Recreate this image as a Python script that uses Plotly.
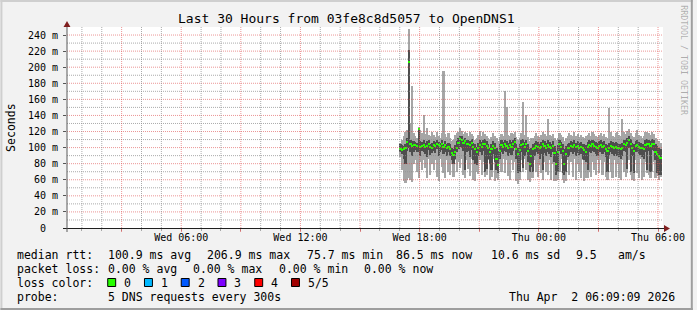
import plotly.graph_objects as go
import pandas as pd

# ---------------- data ----------------
start_time = "2026-04-01 17:03"   # first 5-minute sample

median_ms = [
    98, 97, 98, 99, 107, 207, 104, 102, 103, 103,
    102, 123, 101, 102, 103, 101, 102, 104, 101, 100,
    103, 102, 105, 103, 102, 104, 101, 103, 100, 101,
    98, 93, 91, 95, 100, 106, 111, 110, 106, 108,
    104, 105, 103, 106, 101, 98, 94, 100, 103, 101,
    104, 105, 102, 99, 94, 98, 102, 100, 86, 78,
    96, 103, 101, 104, 102, 100, 103, 101, 104, 107,
    98, 92, 97, 103, 105, 101, 104, 96, 79, 90,
    98, 100, 102, 101, 99, 101, 104, 102, 100, 103,
    101, 99, 102, 93, 80, 95, 104, 101, 96, 80,
    92, 99, 100, 102, 101, 103, 101, 102, 100, 101,
    99, 97, 95, 101, 103, 102, 104, 102, 101, 100,
    102, 103, 101, 102, 98, 96, 100, 102, 101, 100,
    101, 100, 99, 98, 100, 104, 103, 106, 109, 105,
    100, 96, 102, 103, 101, 100, 99, 98, 103, 105,
    104, 102, 105, 104, 95, 92, 90, 86.5,
]
min_ms = [
    88, 72, 58, 56, 60, 62, 60, 57, 80, 84,
    70, 62, 82, 72, 85, 75, 62, 86, 66, 80,
    72, 84, 63, 58, 86, 76, 68, 62, 84, 70,
    66, 80, 64, 85, 70, 82, 75, 86, 66, 62,
    84, 74, 65, 86, 60, 58, 70, 67, 85, 66,
    82, 64, 66, 84, 60, 64, 86, 58, 62, 60,
    80, 70, 86, 68, 84, 65, 60, 85, 72, 82,
    58, 55, 60, 84, 70, 86, 72, 60, 57, 62,
    62, 84, 70, 64, 78, 68, 60, 82, 70, 66,
    84, 60, 80, 58, 58, 60, 70, 86, 60, 56,
    58, 84, 66, 82, 64, 86, 60, 80, 70, 62,
    84, 58, 62, 62, 70, 64, 82, 72, 66, 85,
    68, 84, 66, 82, 64, 60, 86, 70, 62, 84,
    64, 80, 62, 60, 84, 70, 64, 68, 85, 66,
    60, 58, 84, 68, 62, 86, 60, 64, 82, 68,
    66, 62, 70, 82, 62, 65, 60, 63,
]
p2_ms = [
    95, 92, 86, 80, 96, 100, 94, 90, 95, 97,
    94, 95, 90, 96, 95, 92, 88, 97, 91, 93,
    96, 93, 98, 90, 95, 97, 92, 95, 90, 94,
    90, 84, 80, 86, 94, 98, 101, 100, 96, 72,
    94, 96, 88, 97, 85, 80, 78, 90, 95, 91,
    96, 70, 74, 86, 80, 72, 92, 82, 72, 68,
    86, 95, 92, 96, 94, 90, 93, 91, 96, 99,
    86, 68, 70, 94, 75, 90, 95, 82, 70, 76,
    70, 90, 95, 92, 86, 92, 72, 93, 90, 95,
    92, 88, 94, 82, 66, 70, 96, 92, 68, 66,
    70, 88, 90, 94, 92, 95, 90, 93, 91, 92,
    86, 84, 82, 72, 95, 93, 96, 94, 92, 90,
    94, 95, 92, 94, 88, 70, 91, 94, 92, 90,
    92, 90, 88, 86, 90, 96, 94, 74, 100, 70,
    90, 68, 94, 95, 92, 91, 88, 86, 95, 72,
    96, 70, 97, 96, 84, 68, 66, 66,
]
p4_ms = [
    104, 103, 102, 104, 112, 222, 110, 108, 108, 107,
    106, 125, 108, 107, 110, 106, 108, 109, 105, 106,
    108, 107, 110, 107, 106, 109, 105, 108, 104, 106,
    104, 100, 98, 103, 108, 112, 115, 114, 111, 112,
    110, 109, 108, 111, 106, 104, 101, 106, 109, 107,
    110, 111, 108, 105, 100, 104, 108, 106, 100, 96,
    104, 109, 107, 110, 108, 106, 109, 107, 110, 112,
    105, 100, 104, 109, 111, 107, 110, 104, 98, 100,
    104, 106, 108, 107, 105, 107, 110, 108, 106, 109,
    107, 105, 108, 102, 96, 103, 110, 107, 104, 98,
    102, 105, 106, 108, 107, 109, 106, 108, 106, 107,
    105, 104, 103, 107, 109, 108, 110, 108, 107, 106,
    108, 109, 107, 108, 105, 103, 106, 108, 107, 106,
    107, 106, 105, 104, 106, 110, 109, 112, 114, 111,
    106, 104, 108, 109, 107, 106, 105, 104, 109, 111,
    110, 108, 111, 110, 104, 102, 100, 98,
]
max_ms = [
    106, 110, 115, 120, 122, 248, 130, 177, 118, 114,
    112, 126, 122, 118, 140, 117, 125, 116, 114, 120,
    116, 113, 119, 115, 112, 118, 195, 117, 113, 118,
    112, 108, 110, 116, 118, 120, 124, 121, 117, 119,
    118, 115, 120, 117, 114, 110, 112, 116, 121, 115,
    119, 117, 114, 112, 110, 113, 118, 114, 112, 108,
    113, 117, 115, 170, 150, 116, 114, 118, 117, 120,
    113, 110, 112, 118, 157, 116, 140, 113, 108, 112,
    112, 114, 118, 115, 113, 116, 119, 117, 114, 135,
    116, 114, 117, 112, 110, 112, 118, 116, 113, 108,
    112, 114, 118, 116, 114, 120, 115, 117, 113, 116,
    113, 112, 114, 116, 118, 115, 119, 117, 114, 113,
    116, 118, 115, 117, 113, 112, 149, 120, 115, 113,
    118, 120, 116, 114, 136, 119, 117, 121, 123, 118,
    114, 113, 118, 122, 116, 114, 112, 115, 119, 120,
    118, 116, 119, 117, 112, 110, 108, 106,
]

y_tickvals = [0, 20, 40, 60, 80, 100, 120, 140, 160, 180, 200, 220, 240]
y_ticktext = ["0\u00a0\u00a0", "20 m", "40 m", "60 m", "80 m", "100 m", "120 m",
              "140 m", "160 m", "180 m", "200 m", "220 m", "240 m"]
x_tickvals = ["2026-04-01 03:00", "2026-04-01 06:00", "2026-04-01 09:00",
              "2026-04-01 12:00", "2026-04-01 15:00", "2026-04-01 18:00",
              "2026-04-01 21:00", "2026-04-02 00:00", "2026-04-02 03:00",
              "2026-04-02 06:00"]
x_ticktext = ["", "Wed 06:00", "", "Wed 12:00", "", "Wed 18:00", "",
              "Thu 00:00", "", "Thu 06:00"]

loss_labels = ["0", "1", "2", "3", "4", "5/5"]
loss_colors = ["#26ff00", "#00b8ff", "#0059ff", "#7e00ff", "#ff0000", "#a00000"]

n = len(median_ms)
assert all(len(a) == n for a in (min_ms, p2_ms, p4_ms, max_ms))
times = pd.date_range(start_time, periods=n, freq="5min")

# ---------------- geometry helpers ----------------
W, H = 697, 310
PL, PR, PT, PB = 67, 667, 27, 228
YMAX = 250.0
X0, X1 = "2026-04-01 00:15", "2026-04-02 06:15"
def px(x):
    return (x - PL) / (PR - PL)
def py(y):
    return (PB - y) / (PB - PT)
px_per_ms = (PB - PT) / YMAX

FONT = "DejaVu Sans Mono"
MGRID = "rgba(222,79,79,0.6)"
GRID = "rgba(143,143,143,0.75)"

fig = go.Figure()
bar_w = 300000  # 5 minutes in ms
fig.add_trace(go.Bar(x=times, base=min_ms, y=[h - l for h, l in zip(max_ms, min_ms)],
                     width=bar_w, marker=dict(color="#a6a6a6", line=dict(width=0)),
                     hoverinfo="skip"))
fig.add_trace(go.Bar(x=times, base=p2_ms, y=[h - l for h, l in zip(p4_ms, p2_ms)],
                     width=bar_w, marker=dict(color="#4e4e4e", line=dict(width=0)),
                     hoverinfo="skip"))
mh = 2.0 / px_per_ms
fig.add_trace(go.Bar(x=times, base=[m - mh / 2 for m in median_ms], y=[mh] * n,
                     width=bar_w, marker=dict(color=loss_colors[0], line=dict(width=0)),
                     hoverinfo="skip"))

fig.update_layout(
    width=W, height=H,
    margin=dict(l=PL, r=W - PR, t=PT, b=H - PB, pad=0),
    paper_bgcolor="#f2f2f2", plot_bgcolor="#ffffff",
    barmode="overlay", bargap=0, showlegend=False,
    font=dict(family=FONT, size=10, color="black"),
    xaxis=dict(type="date", range=[X0, X1],
               tickmode="array", tickvals=x_tickvals, ticktext=x_ticktext,
               ticks="outside", ticklen=3, tickcolor=MGRID, showgrid=False,
               minor=dict(tickmode="linear", tick0="2026-04-01 00:00", dtick=3600000,
                          showgrid=False, ticks="outside", ticklen=2, tickcolor=GRID),
               zeroline=False, showline=False,
               tickfont=dict(size=10, family=FONT, color="#000000"),
               ticklabelstandoff=-3, fixedrange=True),
    yaxis=dict(range=[0, YMAX], tickmode="array", tickvals=y_tickvals, ticktext=y_ticktext,
               ticks="outside", ticklen=3, tickcolor="#555555", showgrid=False,
               zeroline=False, showline=False,
               tickfont=dict(size=10, family=FONT, color="#000000"),
               ticklabelstandoff=3, fixedrange=True),
)

shapes = []
# grid drawn above the data, as rrdtool does
for v in range(10, 250, 10):
    shapes.append(dict(type="line", xref="paper", yref="y", x0=0, x1=1, y0=v, y1=v, layer="above",
                       line=dict(color=MGRID if v % 20 == 0 else GRID, width=1, dash="1px,1px")))
for t in pd.date_range("2026-04-01 01:00", "2026-04-02 06:00", freq="1h"):
    shapes.append(dict(type="line", xref="x", yref="paper", x0=t, x1=t, y0=0, y1=1, layer="above",
                       line=dict(color=MGRID if t.hour % 3 == 0 else GRID, width=1, dash="1px,1px")))
# image border (3D look)
shapes.append(dict(type="line", xref="paper", yref="paper", x0=px(0), x1=px(W), y0=py(1), y1=py(1),
                   line=dict(color="#cfcfcf", width=2)))
shapes.append(dict(type="line", xref="paper", yref="paper", x0=px(1), x1=px(1), y0=py(0), y1=py(H),
                   line=dict(color="#cfcfcf", width=2)))
shapes.append(dict(type="line", xref="paper", yref="paper", x0=px(0), x1=px(W), y0=py(H - 1), y1=py(H - 1),
                   line=dict(color="#9e9e9e", width=2)))
shapes.append(dict(type="line", xref="paper", yref="paper", x0=px(W - 1), x1=px(W - 1), y0=py(0), y1=py(H),
                   line=dict(color="#9e9e9e", width=2)))
# axes
shapes.append(dict(type="line", xref="paper", yref="paper", x0=px(63), x1=px(669), y0=py(228.5), y1=py(228.5),
                   line=dict(color="#1f1f1f", width=1)))
shapes.append(dict(type="line", xref="paper", yref="paper", x0=px(67), x1=px(67), y0=py(232), y1=py(25),
                   line=dict(color="#5a5a5a", width=1)))
# arrows
shapes.append(dict(type="path", xref="paper", yref="paper",
                   path=f"M {px(668)},{py(225)} L {px(674)},{py(228.5)} L {px(668)},{py(232)} Z",
                   fillcolor="#801f1f", line=dict(width=0)))
shapes.append(dict(type="path", xref="paper", yref="paper",
                   path=f"M {px(63.5)},{py(27)} L {px(67)},{py(21)} L {px(70.5)},{py(27)} Z",
                   fillcolor="#801f1f", line=dict(width=0)))

ann = []
def text(x, y, s, size=11.5, anchor="left", color="black", angle=0):
    ann.append(dict(x=px(x), y=py(y), xref="paper", yref="paper", text=s, showarrow=False,
                    xanchor=anchor, yanchor="middle", textangle=angle, borderpad=0,
                    font=dict(family=FONT, size=size, color=color)))

text(W / 2, 18.5, "Last 30 Hours from 03fe8c8d5057 to OpenDNS1", size=13, anchor="center")
text(10.5, 128, "Seconds", size=11.5, anchor="center", angle=-90)
text(688, 60, "RRDTOOL / TOBI OETIKER", size=8.3, anchor="center", color="rgba(0,0,0,0.3)", angle=90)

LY = [254.5, 268.5, 282.5, 296.5]
text(16, LY[0], "median rtt:")
for x, s in [(107, "100.9 ms avg"), (206.5, "206.9 ms max"), (307.5, "75.7 ms min"),
             (397, "86.5 ms now"), (493, "10.6 ms sd"), (578.5, "9.5"), (620.5, "am/s")]:
    text(x, LY[0], s)
text(16, LY[1], "packet loss:")
for x, s in [(107, "0.00 % avg"), (193, "0.00 % max"), (279, "0.00 % min"), (365, "0.00 % now")]:
    text(x, LY[1], s)
text(16, LY[2], "loss color:")
box_x = [108, 145, 182, 219, 256, 293]
for bx, lab, col in zip(box_x, loss_labels, loss_colors):
    shapes.append(dict(type="rect", xref="paper", yref="paper", x0=px(bx), x1=px(bx + 8),
                       y0=py(286.5), y1=py(278.5), fillcolor=col, line=dict(color="black", width=1)))
    text(bx + 15.5, LY[2], lab)
text(16, LY[3], "probe:")
text(107, LY[3], "5 DNS requests every 300s")
text(680, LY[3], "Thu Apr\u00a0\u00a02 06:09:09 2026", anchor="right")

fig.update_layout(shapes=shapes, annotations=ann)
fig.write_html("out.html")
